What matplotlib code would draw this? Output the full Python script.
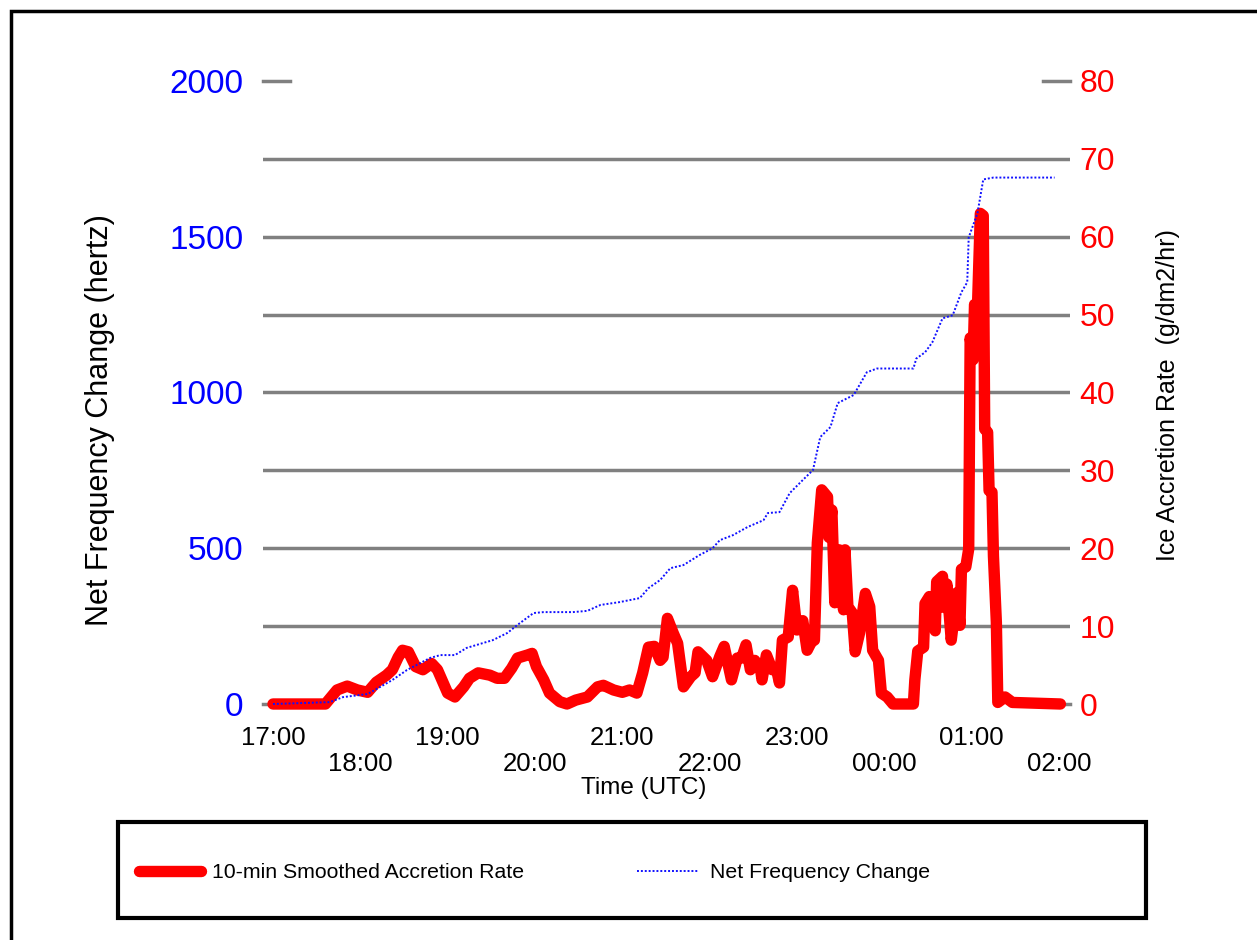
import matplotlib
matplotlib.use("Agg")
import matplotlib.pyplot as plt
from matplotlib.lines import Line2D
from matplotlib.patches import Rectangle

plt.rcParams['font.family'] = ['Liberation Sans', 'DejaVu Sans']

# minutes after 17:00 UTC and 10-min smoothed ice accretion rate (g/dm2/hr)
rate_min = [0, 36, 44, 51, 58, 65, 71, 78, 82, 86, 89, 93, 98, 103, 109, 113, 117, 120,
            125, 131, 135, 141, 149, 154, 159, 164, 168, 175, 178, 181, 186, 190, 197,
            202, 208, 216, 223, 227, 234, 240, 245, 250, 254, 258, 262, 266, 268, 271,
            275, 278, 282, 287, 290, 292, 298, 302, 307, 310, 315, 319, 322, 325, 328,
            331, 335, 336, 339, 343, 346, 348, 350, 354, 357, 360, 364, 367, 370, 372,
            374, 377, 381, 382, 384, 386, 389, 392, 393, 395, 398, 400, 403, 407, 410,
            412, 416, 418, 422, 426, 440, 441, 443, 447, 448, 451, 455, 456, 460, 461,
            463, 466, 470, 472, 473, 476, 478, 479, 481, 482, 484, 486, 488, 489, 491,
            492, 494, 495, 497, 498, 503, 508, 541]
rate_val = [0, 0, 1.8, 2.3, 1.8, 1.5, 2.8, 3.7, 4.4, 6.0, 6.9, 6.7, 4.8, 4.4, 5.2, 4.4, 2.7, 1.4,
            0.9, 2.2, 3.3, 4.0, 3.7, 3.3, 3.3, 4.6, 5.9, 6.3, 6.5, 4.8, 3.1, 1.4, 0.3,
            0, 0.5, 0.9, 2.2, 2.4, 1.8, 1.5, 1.8, 1.4, 4.0, 7.3, 7.4, 5.6, 6.0, 11.0,
            9.1, 7.8, 2.2, 3.5, 4.0, 6.7, 5.6, 3.5, 6.1, 7.4, 3.1, 5.9, 5.9, 7.6, 4.4,
            5.6, 4.4, 3.1, 6.3, 4.4, 4.4, 2.7, 8.2, 8.6, 14.6, 9.5, 10.7, 6.9, 8.0, 8.2,
            20.7, 27.5, 26.6, 21.4, 24.9, 13.0, 19.8, 12.1, 19.8, 12.5, 11.7, 6.7, 9.1, 14.2, 12.5,
            6.9, 5.6, 1.4, 0.9, 0, 0, 3.1, 6.8, 7.3, 12.9, 13.8, 9.4, 15.7, 16.4, 12.4,
            15.4, 8.2, 14.3, 10.1, 17.3, 17.6, 19.9, 47.0, 44.2, 51.3, 50.8, 63.0, 62.7, 35.3, 34.9,
            27.4, 27.2, 19.0, 10.5, 0.2, 0.9, 0.2, 0]

# minutes after 17:00 UTC and net frequency change (hertz)
freq_min = [0, 39, 48, 65, 82, 92, 108, 115, 125, 133, 151, 161, 168, 179, 186, 206, 216,
            225, 238, 252, 258, 266, 273, 282, 293, 302, 307, 316, 326, 337, 340, 348,
            355, 364, 371, 376, 383, 388, 399, 408, 415, 440, 442, 448, 453, 460, 467,
            473, 477, 478, 484, 488, 495, 537]
freq_val = [0, 6, 22, 32, 77, 109, 148, 157, 157, 180, 205, 228, 254, 292, 295, 295, 299,
            318, 327, 340, 372, 398, 436, 446, 478, 500, 526, 542, 568, 590, 613, 616,
            677, 719, 751, 857, 889, 966, 992, 1065, 1077, 1077, 1109, 1129, 1161, 1238, 1248,
            1322, 1354, 1498, 1575, 1684, 1690, 1690]

hour_ticks = [0, 120, 240, 360, 480]
hour_labels = ['17:00', '19:00', '21:00', '23:00', '01:00']
half_ticks = [60, 180, 300, 420, 540]
half_labels = ['18:00', '20:00', '22:00', '00:00', '02:00']

W, H = 1257, 940
fig = plt.figure(figsize=(W / 100, H / 100), dpi=100)
ax = fig.add_axes([263 / W, 1 - 704 / H, (1070 - 263) / W, (704 - 81) / H])
ax2 = ax.twinx()

# accretion rate on the right-hand scale
for v in range(10, 80, 10):
    ax.axhline(v, color='#808080', lw=2.5, zorder=0)
for v in (0, 80):
    ax.axhline(v, xmin=0, xmax=0.034, color='#808080', lw=2.5, zorder=0, clip_on=False)
    ax.axhline(v, xmin=0.967, xmax=1, color='#808080', lw=2.5, zorder=0, clip_on=False)
ax.plot(rate_min, rate_val, color='red', lw=8.2, solid_joinstyle='round',
        solid_capstyle='round', clip_on=False, zorder=3)
ax.set_ylim(0, 80)
ax.set_xlim(-6.87, 547.6)
ax.yaxis.tick_right()
ax.set_yticks(range(0, 81, 10))
ax.tick_params(axis='y', length=0, pad=7, labelsize=23, labelcolor='red')

ax.set_xticks(hour_ticks, hour_labels)
ax.set_xticks(half_ticks, half_labels, minor=True)
ax.tick_params(axis='x', which='major', length=0, pad=16, labelsize=18.5)
ax.tick_params(axis='x', which='minor', length=0, pad=34.5, labelsize=18.5)

# net frequency on the left-hand scale
ax2.plot(freq_min, freq_val, color='#1010ff', lw=1.4, linestyle=(0, (1, 1)),
         clip_on=False)
ax2.set_ylim(0, 2000)
ax2.yaxis.tick_left()
ax2.set_yticks(range(0, 2001, 500))
ax2.tick_params(axis='y', length=0, pad=14, labelsize=24, labelcolor='blue')

for a in (ax, ax2):
    for s in a.spines.values():
        s.set_visible(False)

fig.text(100 / W, 1 - 420 / H, 'Net Frequency Change (hertz)', rotation=90,
         ha='center', va='center', fontsize=22)
fig.text(1168 / W, 1 - 395 / H, 'Ice Accretion Rate  (g/dm2/hr)', rotation=90,
         ha='center', va='center', fontsize=18)
fig.text(644 / W, 1 - 788 / H, 'Time (UTC)', ha='center', va='center', fontsize=17.5)

handles = [Line2D([], [], color='red', lw=8.2, solid_capstyle='round'),
           Line2D([], [], color='#1010ff', lw=1.4, linestyle=(0, (1, 1)))]
fig.legend(handles, ['10-min Smoothed Accretion Rate', 'Net Frequency Change'],
           loc='center left', bbox_to_anchor=(139 / W, 1 - 873 / H), ncol=2,
           frameon=False, fontsize=15.3, handlelength=2.9, handletextpad=0.55,
           columnspacing=5.3, borderpad=0, borderaxespad=0)

fig.add_artist(Rectangle((118 / W, 1 - 918 / H), (1146 - 118) / W, 96 / H,
                         transform=fig.transFigure, fill=False, lw=3, edgecolor='black'))
fig.add_artist(Rectangle((11 / W, -0.1), 1.2, 1.1 - 11 / H,
                         transform=fig.transFigure, fill=False, lw=2.5, edgecolor='black'))

fig.savefig('out.png', dpi=100)
